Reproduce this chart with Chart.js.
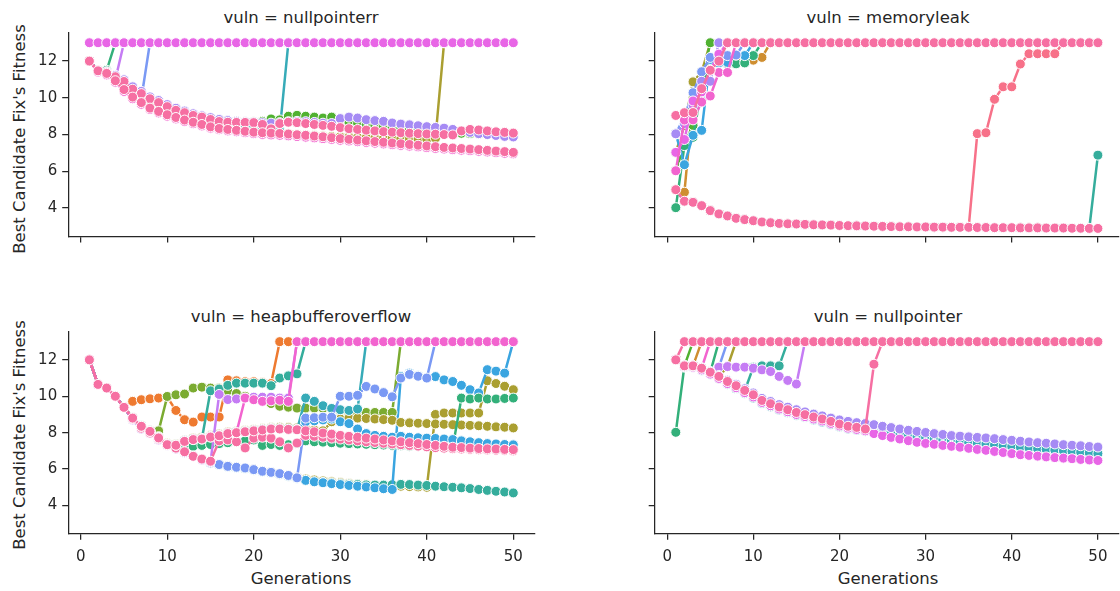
<!DOCTYPE html>
<html>
<head>
<meta charset="utf-8">
<script src="https://cdn.jsdelivr.net/npm/chart.js@4.4.1/dist/chart.umd.min.js"></script>
<style>
html, body { margin: 0; padding: 0; overflow: hidden; background: #fff; width: 1120px; height: 591px; }
canvas { position: absolute; }
.lbl { position: absolute; font-family: "DejaVu Sans", sans-serif; font-size: 16.5px; color: #262626; white-space: nowrap; transform: translate(-50%, -50%); }
.ylbl { transform: translate(-50%, -50%) rotate(-90deg); }
</style>
</head>
<body>
<div class="lbl" style="left:301px;top:17px">vuln = nullpointerr</div>
<div class="lbl" style="left:888px;top:17px">vuln = memoryleak</div>
<div class="lbl" style="left:301px;top:316px">vuln = heapbufferoverflow</div>
<div class="lbl" style="left:888px;top:316px">vuln = nullpointer</div>
<div class="lbl" style="left:301px;top:578px">Generations</div>
<div class="lbl" style="left:888px;top:578px">Generations</div>
<div class="lbl ylbl" style="left:19px;top:139px">Best Candidate Fix's Fitness</div>
<div class="lbl ylbl" style="left:19px;top:435px">Best Candidate Fix's Fitness</div>

<canvas id="c1" width="560" height="295" style="left:0;top:0"></canvas>
<canvas id="c2" width="545" height="295" style="left:580px;top:0"></canvas>
<canvas id="c3" width="560" height="291" style="left:0;top:300px"></canvas>
<canvas id="c4" width="545" height="291" style="left:580px;top:300px"></canvas>

<script>
const generations = [1, 2, 3, 4, 5, 6, 7, 8, 9, 10, 11, 12, 13, 14, 15, 16, 17, 18, 19, 20,
  21, 22, 23, 24, 25, 26, 27, 28, 29, 30, 31, 32, 33, 34, 35, 36, 37, 38, 39, 40,
  41, 42, 43, 44, 45, 46, 47, 48, 49, 50];
const xTicks = [0, 10, 20, 30, 40, 50];
const yTicks = [4, 6, 8, 10, 12];

// husl-like colours, one per run
const palette = ['#f77189', '#ee7a30', '#cf8e30', '#aa9f31', '#7bab31', '#50b131', '#33b07a', '#35ad9c',
  '#37abb8', '#3aa5e0', '#7a99f4', '#a68bf4', '#c57cf4', '#e866e6', '#f264cf', '#f66fa2'];

// ---- vuln = nullpointerr ----
const nullpointerrRuns = [6, 12, 10, 8, 3, 5, 11, 14, 13, 15, 15];
const nullpointerrFitness = [
  [12, 11.5, 11.5, 13],
  [12, 11.5, 11.3, 11.0, 13],
  [12, 11.5, 11.35, 11.15, 10.9, 10.5, 9.95, 13],
  [12, 11.5, 11.36, 11.1, 10.8, 10.4, 10.15, 9.88, 9.66, 9.45, 9.26, 9.12, 8.97, 8.88, 8.74, 8.62, 8.57, 8.54, 8.5, 8.45, 8.4, 8.3, 8.2, 13],
  [12, 11.45, 11.3, 10.95, 10.55, 10.1, 9.8, 9.5, 9.3, 9.12, 8.97, 8.83, 8.7, 8.6, 8.48, 8.38, 8.32, 8.27, 8.22, 8.17,
   8.13, 8.1, 8.07, 8.04, 8.01, 7.98, 7.95, 7.92, 7.9, 7.88, 7.86, 7.84, 7.82, 7.8, 7.79, 7.78, 7.77, 7.76, 7.76, 7.75, 7.8, 13],
  [12, 11.5, 11.4, 11.2, 10.95, 10.55, 10.3, 10.0, 9.8, 9.6, 9.4, 9.25, 9.1, 9.0, 8.9, 8.8, 8.75, 8.72, 8.7, 8.7,
   8.72, 8.85, 8.8, 9.0, 9.05, 9.0, 8.95, 8.9, 8.95, 8.85, 8.7, 8.62, 8.55, 8.5, 8.45, 8.4, 8.35, 8.3, 8.25, 8.2,
   8.15, 8.12, 8.1, 8.07, 8.05, 8.03, 8.0, 7.98, 7.96, 7.94],
  [12, 11.52, 11.42, 11.22, 10.98, 10.6, 10.35, 10.05, 9.85, 9.63, 9.43, 9.28, 9.13, 9.02, 8.92, 8.82, 8.76, 8.72, 8.7, 8.68,
   8.64, 8.62, 8.65, 8.7, 8.72, 8.7, 8.66, 8.62, 8.6, 8.87, 8.95, 8.9, 8.81, 8.76, 8.72, 8.63, 8.57, 8.53, 8.48, 8.43,
   8.39, 8.35, 8.28, 8.2, 8.12, 8.05, 8.0, 7.95, 7.9, 7.87],
  [12, 11.4, 11.25, 10.85, 10.35, 9.95, 9.65, 9.36, 9.18, 9.0, 8.85, 8.71, 8.59, 8.47, 8.35, 8.26, 8.2, 8.15, 8.1, 8.05,
   8.01, 7.98, 7.96, 7.93, 7.89, 7.86, 7.82, 7.78, 7.74, 7.69, 7.65, 7.61, 7.57, 7.53, 7.49, 7.45, 7.41, 7.37, 7.33, 7.29,
   7.25, 7.21, 7.18, 7.15, 7.12, 7.09, 7.05, 7.01, 6.98, 6.95],
  [13, 13, 13, 13, 13, 13, 13, 13, 13, 13, 13, 13, 13, 13, 13, 13, 13, 13, 13, 13, 13, 13, 13, 13, 13,
   13, 13, 13, 13, 13, 13, 13, 13, 13, 13, 13, 13, 13, 13, 13, 13, 13, 13, 13, 13, 13, 13, 13, 13, 13],
  [12, 11.5, 11.38, 11.15, 10.89, 10.47, 10.23, 9.95, 9.74, 9.52, 9.32, 9.19, 9.04, 8.95, 8.82, 8.71, 8.67, 8.66, 8.66, 8.65,
   8.55, 8.31, 8.6, 8.67, 8.65, 8.6, 8.55, 8.5, 8.45, 8.38, 8.32, 8.28, 8.24, 8.2, 8.16, 8.13, 8.1, 8.07, 8.05, 8.03,
   8.02, 8.0, 7.98, 8.2, 8.28, 8.25, 8.2, 8.15, 8.12, 8.08],
  [12, 11.47, 11.33, 10.93, 10.45, 10.04, 9.74, 9.44, 9.26, 9.08, 8.93, 8.79, 8.67, 8.55, 8.42, 8.33, 8.28, 8.23, 8.18, 8.13,
   8.1, 8.08, 8.06, 8.03, 7.99, 7.96, 7.92, 7.88, 7.83, 7.78, 7.74, 7.7, 7.66, 7.62, 7.58, 7.54, 7.5, 7.46, 7.42, 7.38,
   7.34, 7.3, 7.27, 7.24, 7.21, 7.18, 7.14, 7.1, 7.07, 7.03]
];

// ---- vuln = memoryleak ----
const memoryleakRuns = [0, 7, 2, 3, 5, 6, 9, 10, 11, 13, 14, 15, 15];
const memoryleakFitness = [
  [5.0, 4.37, 4.31, 4.13, 3.86, 3.68, 3.57, 3.44, 3.37, 3.31, 3.24, 3.2, 3.16, 3.14, 3.13, 3.11, 3.09, 3.08, 3.07, 3.05,
   3.04, 3.03, 3.02, 3.01, 3.0, 2.99, 2.98, 2.98, 2.97, 2.97, 2.96, 2.96, 2.95, 2.95, 2.95, 8.05, 8.1, 9.92, 10.6, 10.6,
   11.84, 12.4, 12.4, 12.4, 12.4, 13, 13, 13, 13, 13],
  [5.0, 4.37, 4.31, 4.13, 3.86, 3.68, 3.57, 3.44, 3.37, 3.31, 3.24, 3.2, 3.16, 3.14, 3.13, 3.11, 3.09, 3.08, 3.07, 3.05,
   3.04, 3.03, 3.02, 3.01, 3.0, 2.99, 2.98, 2.98, 2.97, 2.97, 2.96, 2.96, 2.95, 2.95, 2.95, 2.94, 2.94, 2.93, 2.93, 2.93,
   2.92, 2.92, 2.92, 2.91, 2.91, 2.91, 2.9, 2.9, 2.89, 6.88],
  [5.0, 4.86, 9.8, 10.6, 11.7, 12.0, 12.1, 12.0, 11.95, 12.05, 12.2, 13],
  [7.03, 8.5, 10.87, 11.4, 13],
  [6.03, 7.5, 8.5, 10.8, 13],
  [4.02, 7.4, 7.85, 10.5, 12.0, 11.9, 11.85, 11.85, 11.9, 12.3, 13],
  [8.04, 6.36, 7.96, 8.23, 12.09, 11.9, 11.93, 12.33, 12.3, 13],
  [8.04, 9.0, 10.28, 11.42, 12.2, 12.3, 12.3, 12.33, 13],
  [8.04, 8.6, 9.6, 10.9, 10.9, 13],
  [7.03, 7.73, 9.83, 10.32, 11.52, 12.38, 13],
  [6.03, 8.79, 8.8, 9.77, 10.1, 11.38, 11.38, 13],
  [9.04, 9.19, 9.2, 10.5, 11.5, 12.0, 13, 13, 13, 13, 13, 13, 13, 13, 13, 13, 13, 13, 13, 13, 13, 13, 13, 13, 13,
   13, 13, 13, 13, 13, 13, 13, 13, 13, 13, 13, 13, 13, 13, 13, 13, 13, 13, 13, 13, 13, 13, 13, 13, 13],
  [5.0, 4.37, 4.31, 4.13, 3.86, 3.68, 3.57, 3.44, 3.37, 3.31, 3.24, 3.2, 3.16, 3.14, 3.13, 3.11, 3.09, 3.08, 3.07, 3.05,
   3.04, 3.03, 3.02, 3.01, 3.0, 2.99, 2.98, 2.98, 2.97, 2.97, 2.96, 2.96, 2.95, 2.95, 2.95, 2.94, 2.94, 2.93, 2.93, 2.93,
   2.92, 2.92, 2.92, 2.91, 2.91, 2.91, 2.9, 2.9, 2.89, 2.89]
];

// ---- vuln = heapbufferoverflow ----
const heapbufferRuns = [3, 7, 9, 1, 4, 3, 7, 8, 6, 9, 10, 12, 15, 14, 15];
const heapbufferFitness = [
  [12, 10.65, 10.45, 10.0, 9.4, 8.7, 8.2, 7.95, 7.6, 7.3, 7.1, 6.9, 6.7, 6.5, 6.34, 6.25, 6.15, 6.1, 6.06, 5.97,
   5.88, 5.82, 5.75, 5.65, 5.55, 5.45, 5.4, 5.35, 5.3, 5.26, 5.22, 5.18, 5.15, 5.12, 5.1, 5.08, 5.06, 5.04, 5.02, 5.0,
   9.0, 9.08, 9.08, 9.08, 9.08, 9.08, 10.85, 10.7, 10.55, 10.36],
  [12, 10.65, 10.45, 10.0, 9.4, 8.7, 8.2, 7.95, 7.6, 7.3, 7.1, 6.9, 6.7, 6.5, 6.32, 6.22, 6.12, 6.07, 6.02, 5.94,
   5.85, 5.78, 5.7, 5.6, 5.48, 5.36, 5.3, 5.27, 5.24, 5.2, 5.17, 5.15, 5.13, 5.12, 5.12, 5.14, 5.16, 5.15, 5.12, 5.1,
   5.06, 5.03, 5.0, 4.97, 4.93, 4.88, 4.83, 4.78, 4.74, 4.69],
  [12, 10.65, 10.45, 10.0, 9.4, 8.7, 8.2, 7.95, 7.6, 7.3, 7.1, 6.9, 6.7, 6.5, 6.33, 6.23, 6.13, 6.08, 6.03, 5.95,
   5.86, 5.8, 5.72, 5.62, 5.5, 5.38, 5.3, 5.25, 5.2, 5.15, 5.1, 5.06, 5.02, 4.97, 4.92, 4.88, 11.08, 11.27, 11.12, 11.0,
   11.08, 10.9, 10.81, 10.6, 10.36, 10.18, 11.46, 11.38, 11.27, 13],
  [12, 10.65, 10.45, 10.0, 9.4, 9.72, 9.81, 9.86, 9.9, 9.95, 9.22, 8.71, 8.58, 8.86, 8.86, 8.86, 10.9, 10.85, 10.8, 10.8,
   10.75, 10.7, 13, 13],
  [12, 10.65, 10.45, 10.0, 9.4, 8.8, 8.3, 8.0, 8.1, 9.99, 10.08, 10.12, 10.45, 10.5, 10.45, 10.45, 10.3, 10.15, 10.0, 9.9,
   9.75, 9.6, 9.45, 9.4, 9.35, 9.35, 9.35, 9.33, 9.3, 9.2, 9.11, 9.11, 9.11, 9.11, 9.11, 9.11, 13],
  [12, 10.65, 10.45, 10.0, 9.4, 8.85, 8.4, 8.12, 7.78, 7.42, 7.38, 7.58, 7.7, 7.74, 7.84, 7.92, 8.03, 8.08, 8.13, 8.18,
   8.23, 8.28, 8.3, 8.28, 8.26, 8.2, 8.15, 8.1, 8.6, 8.75, 8.8, 8.8, 8.78, 8.75, 8.72, 8.68, 8.56, 8.54, 8.52, 8.5,
   8.48, 8.46, 8.44, 8.42, 8.4, 8.38, 8.35, 8.32, 8.3, 8.26],
  [12, 10.65, 10.45, 10.0, 9.4, 8.8, 8.35, 8.07, 7.71, 7.34, 7.31, 7.52, 7.62, 7.65, 10.3, 10.4, 10.6, 10.72, 10.72, 10.72,
   10.72, 10.58, 11.0, 11.12, 11.23, 13],
  [12, 10.65, 10.45, 10.0, 9.4, 8.8, 8.35, 8.07, 7.71, 7.34, 7.31, 7.52, 7.62, 7.65, 7.76, 7.83, 7.95, 8.0, 8.05, 8.1,
   8.15, 8.2, 8.2, 8.18, 8.16, 9.9, 9.72, 9.48, 9.33, 9.26, 9.22, 9.3, 13],
  [12, 10.65, 10.45, 10.0, 9.4, 8.75, 8.28, 8.0, 7.65, 7.32, 7.2, 7.2, 7.25, 7.3, 7.35, 7.4, 7.45, 7.5, 7.55, 7.6,
   7.3, 7.35, 7.3, 7.34, 7.4, 7.55, 7.5, 7.48, 7.45, 7.42, 7.4, 7.38, 7.36, 7.34, 7.32, 7.3, 7.28, 7.26, 7.25, 7.24,
   7.23, 7.22, 7.2, 9.9, 9.85, 9.9, 9.85, 9.85, 9.88, 9.9],
  [12, 10.65, 10.45, 10.0, 9.4, 8.82, 8.38, 8.1, 7.74, 7.37, 7.34, 7.55, 7.65, 7.68, 7.79, 7.86, 7.98, 8.03, 8.08, 8.13,
   8.18, 8.23, 8.23, 8.21, 8.19, 8.6, 8.65, 8.7, 8.75, 8.6, 8.5, 8.2, 7.95, 7.85, 7.8, 7.75, 7.8, 7.75, 7.72, 7.7,
   7.68, 7.65, 7.62, 7.55, 7.5, 7.45, 7.4, 7.38, 7.35, 7.33],
  [12, 10.65, 10.45, 10.0, 9.4, 8.72, 8.22, 7.97, 7.62, 7.32, 7.12, 6.92, 6.72, 6.52, 6.34, 6.25, 6.15, 6.1, 6.06, 5.97,
   5.88, 5.82, 5.75, 5.65, 5.52, 8.8, 8.82, 8.85, 8.85, 10.0, 10.0, 10.05, 10.54, 10.4, 10.2, 9.97, 11.0, 11.2, 11.1, 11.0, 13],
  [12, 10.65, 10.45, 10.0, 9.4, 8.7, 8.2, 7.95, 7.6, 7.3, 7.1, 6.9, 6.7, 6.5, 6.4, 10.1, 9.82, 9.85, 9.9, 9.95,
   9.95, 9.95, 9.9, 9.9, 13],
  [12, 10.65, 10.45, 10.0, 9.4, 8.75, 8.25, 7.98, 7.65, 7.32, 7.15, 6.95, 6.7, 6.55, 6.43, 7.55, 7.6, 7.5, 7.16, 7.7,
   7.75, 7.7, 7.5, 7.16, 7.43, 7.85, 7.8, 7.75, 7.7, 7.65, 7.6, 7.55, 7.5, 7.46, 7.42, 7.38, 7.34, 7.3, 7.26, 7.22,
   7.18, 7.15, 7.12, 7.1, 7.08, 7.06, 7.05, 7.03, 7.02, 7.0],
  [12, 10.65, 10.45, 10.0, 9.4, 8.8, 8.35, 8.07, 7.71, 7.34, 7.31, 7.52, 7.62, 7.65, 7.76, 7.83, 7.95, 8.0, 9.9, 9.81,
   9.72, 9.75, 9.78, 9.72, 13, 13, 13, 13, 13, 13, 13, 13, 13, 13, 13, 13, 13, 13, 13, 13,
   13, 13, 13, 13, 13, 13, 13, 13, 13, 13],
  [12, 10.65, 10.45, 10.0, 9.39, 8.8, 8.35, 8.07, 7.71, 7.34, 7.31, 7.52, 7.62, 7.65, 7.76, 7.83, 7.95, 8.0, 8.05, 8.1,
   8.15, 8.2, 8.2, 8.18, 8.16, 8.1, 8.05, 7.98, 7.92, 7.85, 7.8, 7.75, 7.7, 7.65, 7.6, 7.55, 7.5, 7.45, 7.4, 7.35,
   7.3, 7.25, 7.2, 7.18, 7.15, 7.13, 7.11, 7.1, 7.08, 7.07]
];

// ---- vuln = nullpointer ----
const nullpointerRuns = [5, 2, 14, 6, 10, 3, 7, 12, 8, 13, 11, 15, 15];
const nullpointerFitness = [
  [12, 11.67, 13],
  [12, 11.67, 11.67, 13],
  [12, 11.67, 11.67, 11.54, 13],
  [8.02, 11.67, 11.67, 11.54, 11.32, 13],
  [12, 11.67, 11.67, 11.54, 11.32, 11.6, 13],
  [12, 11.67, 11.67, 11.54, 11.32, 11.09, 11.62, 13],
  [12, 11.67, 11.67, 11.54, 11.32, 11.09, 10.81, 10.58, 10.3, 11.6, 11.67, 11.67, 11.67, 13],
  [12, 11.67, 11.67, 11.54, 11.32, 11.6, 11.63, 11.6, 11.6, 11.54, 11.45, 11.36, 11.09, 10.87, 10.67, 13],
  [12, 11.6, 11.58, 11.42, 11.2, 10.95, 10.66, 10.42, 10.15, 9.9, 9.6, 9.42, 9.25, 9.1, 8.95, 8.83, 8.7, 8.58, 8.45, 8.32,
   8.2, 8.14, 8.08, 8.02, 7.98, 7.92, 7.86, 7.8, 7.76, 7.72, 7.66, 7.6, 7.55, 7.5, 7.45, 7.42, 7.38, 7.33, 7.28, 7.24,
   7.2, 7.16, 7.12, 7.08, 7.04, 7.0, 6.97, 6.93, 6.89, 6.85],
  [12, 11.62, 11.6, 11.45, 11.22, 10.98, 10.7, 10.47, 10.2, 9.96, 9.66, 9.48, 9.3, 9.15, 9.0, 8.88, 8.75, 8.64, 8.51, 8.37,
   8.25, 8.18, 8.1, 7.95, 7.84, 7.74, 7.65, 7.56, 7.47, 7.41, 7.36, 7.3, 7.25, 7.2, 7.14, 7.08, 7.03, 6.97, 6.91, 6.85,
   6.79, 6.75, 6.71, 6.67, 6.63, 6.6, 6.57, 6.53, 6.5, 6.47],
  [12, 11.67, 11.67, 11.56, 11.36, 11.14, 10.88, 10.66, 10.41, 10.18, 9.88, 9.71, 9.54, 9.4, 9.26, 9.14, 9.02, 8.92, 8.8, 8.7,
   8.62, 8.55, 8.5, 8.44, 8.35, 8.28, 8.2, 8.13, 8.07, 8.01, 7.95, 7.9, 7.84, 7.81, 7.77, 7.74, 7.71, 7.67, 7.62, 7.58,
   7.53, 7.49, 7.45, 7.42, 7.38, 7.34, 7.31, 7.28, 7.24, 7.21],
  [12, 11.67, 11.67, 11.54, 11.32, 11.09, 10.81, 10.58, 10.32, 10.08, 9.77, 9.59, 9.41, 9.26, 9.11, 8.99, 8.86, 8.75, 8.62, 8.47,
   8.35, 8.29, 8.2, 11.76, 13],
  [12, 13, 13, 13, 13, 13, 13, 13, 13, 13, 13, 13, 13, 13, 13, 13, 13, 13, 13, 13, 13, 13, 13, 13, 13,
   13, 13, 13, 13, 13, 13, 13, 13, 13, 13, 13, 13, 13, 13, 13, 13, 13, 13, 13, 13, 13, 13, 13, 13, 13]
];

const axisColor = '#262626';
const tickFont = { family: 'DejaVu Sans', size: 15 };

function makeChart(id, runs, fitness, opts) {
  const datasets = fitness.map((vals, i) => {
    const c = palette[runs[i]];
    return {
      label: 'run ' + runs[i],
      data: vals.map((v, j) => ({ x: generations[j], y: v })),
      borderColor: c,
      backgroundColor: c,
      pointBackgroundColor: c,
      pointBorderColor: '#ffffff',
      pointBorderWidth: 1,
      pointRadius: 5,
      borderWidth: 2.5,
      tension: 0,
      order: fitness.length - i
    };
  });
  new Chart(document.getElementById(id), {
    type: 'line',
    data: { datasets: datasets },
    options: {
      responsive: false,
      animation: false,
      events: [],
      layout: { padding: { top: opts.padTop, right: opts.padRight, left: 0, bottom: 0 } },
      plugins: { legend: { display: false }, tooltip: { enabled: false } },
      scales: {
        x: {
          type: 'linear', min: -1.45, max: 52.45,
          afterBuildTicks: s => { s.ticks = xTicks.map(v => ({ value: v })); },
          afterFit: s => { s.height = opts.xH; },
          grid: { drawOnChartArea: false, drawTicks: true, tickLength: 6, color: axisColor, lineWidth: 1.25 },
          border: { display: true, color: axisColor, width: 1.25 },
          ticks: { display: opts.xLabels, color: axisColor, font: tickFont, padding: 8, maxRotation: 0 }
        },
        y: {
          type: 'linear', min: 2.45, max: 13.53,
          afterBuildTicks: s => { s.ticks = yTicks.map(v => ({ value: v })); },
          afterFit: s => { s.width = opts.yW; },
          grid: { drawOnChartArea: false, drawTicks: true, tickLength: 6, color: axisColor, lineWidth: 1.25 },
          border: { display: true, color: axisColor, width: 1.25 },
          ticks: { display: opts.yLabels, color: axisColor, font: tickFont, padding: 5 }
        }
      }
    }
  });
}

makeChart('c1', nullpointerrRuns, nullpointerrFitness, { padTop: 33, padRight: 25.5, xH: 58.5, yW: 68.2, xLabels: false, yLabels: true });
makeChart('c2', memoryleakRuns, memoryleakFitness, { padTop: 33, padRight: 3.1, xH: 58.5, yW: 74.7, xLabels: false, yLabels: false });
makeChart('c3', heapbufferRuns, heapbufferFitness, { padTop: 32, padRight: 25.5, xH: 57.3, yW: 68.2, xLabels: true, yLabels: true });
makeChart('c4', nullpointerRuns, nullpointerFitness, { padTop: 32, padRight: 3.1, xH: 57.3, yW: 74.7, xLabels: true, yLabels: false });
</script>
</body>
</html>
